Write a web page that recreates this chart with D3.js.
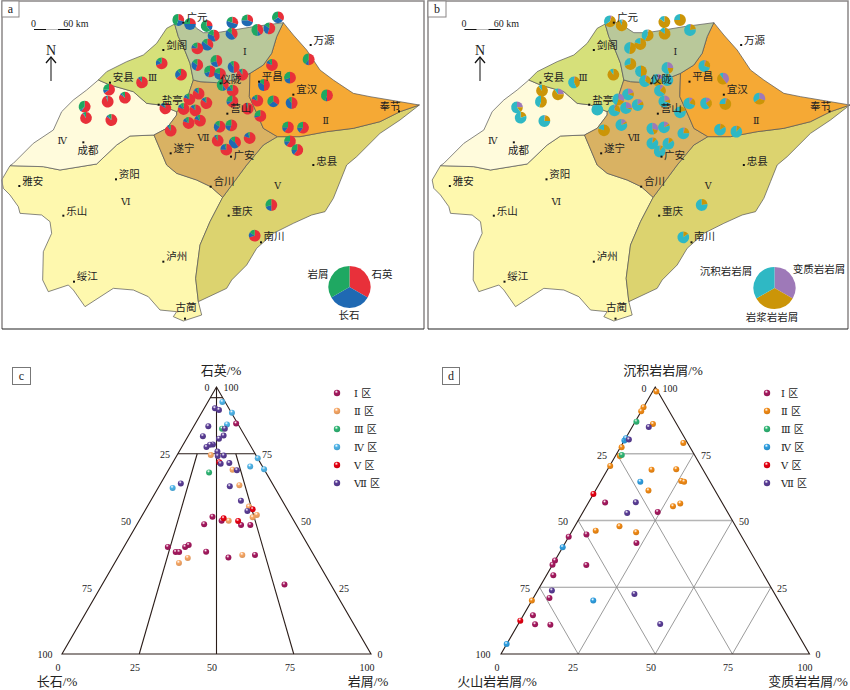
<!DOCTYPE html>
<html><head><meta charset="utf-8"><script src="https://cdn.jsdelivr.net/npm/d3@7/dist/d3.min.js"></script>
<style>html,body{margin:0;background:#fff}svg{display:block}
.zh{font-family:"Noto Sans CJK SC",sans-serif;fill:#222}.num{font-family:"Liberation Serif",serif;fill:#222}
.title{font-family:"Liberation Serif","Noto Sans CJK SC",serif;fill:#222}.rom{font-family:"DejaVu Serif","Noto Sans CJK SC",serif;fill:#222}</style></head><body><script>
// Shared region boundaries, in map units
const bIIIn=[[295,240],[320,215],[380,185],[430,165],[470,130],[500,85],[524,72]];
const bItop=[[524,72],[550,68],[575,66],[590,85],[610,98],[650,98],[700,90],[760,80],[850,68]];
const bIe=[[850,68],[830,110],[815,160],[790,195],[750,220]];
const bIs=[[750,220],[700,240],[650,248],[600,245],[580,240]];
const bIw=[[580,240],[570,190],[550,140],[535,110],[524,72]];
const bIIIIV=[[295,240],[330,255],[400,275],[440,310],[480,315],[530,335]];
const bIIIVII=[[580,240],[570,270],[555,320],[530,335]];
const bIVw=[[295,240],[260,270],[220,300],[185,335],[160,390],[100,430],[40,490],[30,497]];
const bIVVI=[[30,497],[130,500],[180,510],[290,492],[350,435],[390,408],[462,405]];
const bIVVII=[[530,335],[530,345],[500,385],[462,405]];
const bVIIII=[[750,220],[748,290],[775,350],[790,385],[832,410]];
const bVIIV=[[832,410],[790,435],[740,495],[668,592]];
const bVIIVI=[[462,405],[500,495],[530,520],[590,540],[632,560],[668,592]];
const bIIn=[[850,68],[880,105],[920,150],[960,210],[1000,240],[1060,280],[1110,290],[1170,300],[1258,315]];
const bIIV=[[832,410],[900,410],[980,395],[1060,385],[1140,365],[1200,335],[1258,315]];
const bVe=[[1258,315],[1200,360],[1140,400],[1070,470],[1040,495],[1020,545],[1000,595],[975,635],[935,645],[880,670],[820,700],[770,745],[740,795],[695,840],[680,865],[595,905]];
const bVVI=[[595,905],[587,835],[600,735],[630,665],[668,592]];
const bVIs=[[30,497],[5,540],[10,565],[30,585],[55,620],[60,640],[125,645],[150,665],[155,700],[130,755],[128,840],[145,875],[205,855],[220,870],[255,920],[340,865],[400,870],[445,890],[480,930],[530,935],[520,950],[550,963],[605,945],[595,905]];
const rev=a=>a.slice().reverse();
const regions=[
 {fill:"#fef8ae",pts:[bVIs,bVVI,rev(bVIIVI),rev(bIVVI)]},
 {fill:"#fffbdc",pts:[bIIIIV,bIVVII,rev(bIVVI),rev(bIVw)]},
 {fill:"#d6e07a",pts:[bIIIn,rev(bIw),bIIIVII,rev(bIIIIV)]},
 {fill:"#dcd36f",pts:[bIIV,bVe,bVVI,rev(bVIIV)]},
 {fill:"#d9b263",pts:[rev(bIs),bVIIII,bVIIV,rev(bVIIVI),rev(bIVVII),rev(bIIIVII)]},
 {fill:"#f5a935",pts:[bIIn,rev(bIIV),rev(bVIIII),rev(bIe)]},
 {fill:"#b9c89a",pts:[bItop,bIe,bIs,bIw]}
];
const cities=[["广元",550,68,591,50],["剑阁",490,150,530,132],["万源",932,135,972,118],["安县",330,248,370,230],["平昌",777,245,817,227],["宜汉",880,284,920,266],["仪陇",662,250,692,235],["盐亭",476,314,517,298],["奉节",1197,334,1170,315],["营山",682,341,722,323],["遂宁",512,460,552,442],["广安",693,470,732,462],["成都",250,427,264,447],["忠县",940,495,980,480],["雅安",58,558,98,540],["资阳",348,538,388,520],["合川",632,560,672,540],["乐山",190,647,230,630],["重庆",686,647,726,630],["南川",783,727,822,707],["泸州",490,785,530,767],["绥江",222,845,262,825],["古蔺",555,956,558,918]];
const zones=[["Ⅰ",735,155],["Ⅱ",977,362],["Ⅲ",458,233],["Ⅳ",187,420],["Ⅴ",833,557],["Ⅵ",377,605],["Ⅶ",610,412]];
// Map pies: x, y, then the three shares
const piesA=[[535,60,30,25,45],[570,72,25,50,25],[620,78,25,15,60],[697,68,30,50,20],[742,61,30,45,25],[772,90,40,10,50],[808,85,55,30,15],[834,52,35,30,35],[641,107,45,35,20],[695,101,40,45,15],[622,134,35,50,15],[592,145,75,10,15],[485,190,70,15,15],[592,195,55,30,15],[649,183,45,25,30],[816,195,80,10,10],[926,178,50,10,40],[701,201,50,40,10],[630,214,55,15,30],[543,224,65,25,10],[660,222,50,30,20],[727,224,90,5,5],[426,247,88,7,5],[870,233,50,20,30],[668,255,40,10,50],[792,255,50,35,15],[327,269,65,10,25],[698,272,75,15,10],[375,293,85,5,10],[596,281,85,10,5],[568,298,80,10,10],[323,305,95,3,2],[254,320,60,5,35],[619,309,85,10,5],[697,304,65,10,25],[772,302,80,10,10],[820,304,35,30,35],[875,309,50,40,10],[981,286,50,5,45],[496,325,85,10,5],[551,327,80,10,10],[586,331,85,10,5],[743,326,95,3,2],[781,348,70,5,25],[258,354,90,3,7],[334,360,85,5,10],[600,362,80,12,8],[566,369,80,10,10],[659,380,60,25,15],[694,376,55,20,25],[864,382,60,15,25],[909,383,60,15,25],[512,392,90,5,5],[749,414,80,15,5],[653,422,90,5,5],[870,424,60,15,25],[705,427,40,45,15],[679,449,75,20,5],[892,450,60,15,25],[814,615,50,20,30],[764,707,70,15,15]];
const piesB=[[555,64,5,60,35],[590,76,3,90,7],[718,66,0,85,15],[765,60,0,75,25],[795,90,3,20,77],[668,106,3,55,42],[719,101,0,85,15],[646,132,0,80,20],[615,144,2,50,48],[616,192,0,70,30],[648,214,0,50,50],[727,204,25,20,55],[838,198,5,25,70],[565,224,0,90,10],[447,247,3,40,57],[697,240,20,40,40],[727,240,0,5,95],[660,243,5,30,65],[894,236,40,50,10],[351,272,0,90,10],[705,272,10,25,65],[399,283,25,65,10],[609,283,20,10,70],[580,298,30,25,45],[718,304,20,10,70],[793,310,10,20,70],[843,310,15,25,60],[901,312,5,70,25],[1003,296,30,35,35],[348,305,0,55,45],[276,322,25,15,60],[638,315,15,10,75],[517,329,0,0,100],[568,331,5,25,70],[603,324,25,5,70],[765,337,0,20,80],[287,353,0,20,80],[358,363,3,22,75],[589,375,15,5,80],[682,386,30,15,55],[717,382,15,5,80],[885,389,2,15,83],[934,395,2,10,88],[537,391,0,80,20],[775,400,5,20,75],[682,430,3,10,87],[730,431,3,12,85],[704,454,3,7,90],[830,615,0,22,78],[775,712,0,15,85]];
// Ternary points: [top %, right %]
const zoneNames=["Ⅰ 区","Ⅱ 区","Ⅲ 区","Ⅳ 区","Ⅴ 区","Ⅶ 区"];
const c1=[[86.3,13.2],[51.4,23],[49.9,26.7],[48.6,21.7],[48.3,33.8],[48.3,36.8],[40.1,14.2],[38.2,17.7],[38.2,18.8],[40.1,19.8],[40.8,20.6],[38.3,27.5],[36.1,35.8],[37.1,43.9],[26,59]];
const c2=[[74.5,10.9],[69,20.7],[63.2,25.8],[55.2,32.9],[52.1,37],[51.2,36.1],[49.9,29],[37.1,39.8],[36,22.7],[34.1,20.8]];
const c3=[[84.4,9.6],[68,13.6]];
const c4=[[94.4,4.7],[90.4,9.8],[86,10.4],[73.3,26.7],[70.2,25.8],[69.2,30.8],[62.2,4.7]];
const c5=[[54.2,34.6],[50.8,26.9],[49.8,32.1],[71.8,15]];
const c7=[[92,3.5],[91.4,5.1],[85.3,4.7],[84.4,10.5],[81.6,4.8],[81.8,11.4],[80.6,10.5],[78.5,9.6],[78.4,8.7],[77.5,8],[75.8,12.4],[74.2,13.3],[74.3,15.2],[71.3,15.7],[71.5,18.4],[68.8,22.2],[63.9,6.5],[62.8,22.9],[57.4,29.2],[53.6,33.2]];
const d1=[[56.7,5.4],[53.2,24.2],[43.9,0],[44.8,5.3],[41.6,23.1],[35,0],[33.4,0],[33.3,11],[29.5,2.2],[21,5.2],[14.5,3.1],[11.1,5.5],[11,10.5]];
const d2=[[98.3,1.2],[92.4,0],[90.9,0],[86.1,6.2],[79,19.6],[77.4,.4],[74.2,1.4],[70.4,.2],[69,14.3],[69.2,22.2],[64.8,26],[64.5,27.1],[61.2,17.2],[56.4,29.9],[55.3,28.1],[47.8,14.5],[46.2,7.6],[45.6,21],[20,0]];
const d3s=[[87,.4],[74.5,1.9]];
const d4=[[80,0],[80.8,.1],[64.5,12.9],[40,0],[20,19.9],[3.7,0]];
const d5=[[59.9,0],[12.5,0]];
const d7=[[85,5.4],[80.3,1.3],[56.8,15.3],[52.8,14.5],[23.8,4.6],[22.5,32],[11.2,46]];
const dotColors=["#a5195f","#f7a765","#2fb574","#4fb4e8","#e60012","#5a3d96"];
const dotColorsD=["#a5195f","#f18a15","#2fb574","#2e9ee0","#e60012","#5a3d96"];
const axisTicks=[0,25,50,75,100];

const svg=d3.select("body").append("svg").attr("width",850).attr("height",690);
const defs=svg.append("defs");
function grad(col){const id="g"+col.slice(1);
 if(defs.select("#"+id).empty()){const g=defs.append("radialGradient").attr("id",id).attr("cx",.4).attr("cy",.3).attr("r",.75);
  g.append("stop").attr("offset",0).attr("stop-color","#fff").attr("stop-opacity",.85);
  g.append("stop").attr("offset",.35).attr("stop-color",col);
  g.append("stop").attr("offset",1).attr("stop-color",d3.color(col).darker(.4));}
 return "url(#"+id+")";}
function txt(g,s,x,y,cls,size,anchor){return g.append("text").attr("class",cls).attr("x",x).attr("y",y).attr("font-size",size).attr("text-anchor",anchor||"middle").attr("dominant-baseline","central").text(s);}
const pieGen=d3.pie().sort(null).startAngle(0).endAngle(2*Math.PI);

function drawMap(offset,pieOffset,pies,cols,arrowX,scaleX){
 const g=svg.append("g");
 const x=d3.scaleLinear().domain([0,1275]).range([offset,offset+425]);
 const xp=d3.scaleLinear().domain([0,1275]).range([pieOffset,pieOffset+425]);
 const y=d3.scaleLinear().domain([0,1020]).range([0,340]);
 const line=d3.line().x(d=>x(d[0])).y(d=>y(d[1])).curve(d3.curveLinear);
 regions.forEach(r=>g.append("path").attr("d",line(r.pts.flat())+"Z").attr("fill",r.fill).attr("stroke","#555").attr("stroke-width",.7));
 const arc=d3.arc().innerRadius(0).outerRadius(5.9);
 pies.forEach(p=>{const pg=g.append("g").attr("transform",`translate(${xp(p[0])},${y(p[1])})`);
  pieGen(p.slice(2)).forEach((s,i)=>pg.append("path").attr("d",arc(s)).attr("fill",cols[i]));});
 zones.forEach(z=>txt(g,z[0],x(z[1]),y(z[2]),"rom",9.5));
 cities.forEach(c=>{g.append("rect").attr("x",x(c[1])-1).attr("y",y(c[2])-1).attr("width",2).attr("height",2).attr("fill","#111");
  txt(g,c[0],x(c[3]),y(c[4]),"zh",10.5);});
 const sx=scaleX;
 g.append("line").attr("x1",sx).attr("x2",sx+36).attr("y1",29.5).attr("y2",29.5).attr("stroke","#bbb").attr("stroke-width",1);
 g.append("line").attr("x1",sx).attr("x2",sx+12).attr("y1",29.5).attr("y2",29.5).attr("stroke","#111").attr("stroke-width",1);
 g.append("line").attr("x1",sx+24).attr("x2",sx+36).attr("y1",29.5).attr("y2",29.5).attr("stroke","#111").attr("stroke-width",1);
 txt(g,"0",sx-.5,23.5,"num",10);
 txt(g,"60 km",sx+42,23.5,"num",10);
 txt(g,"N",arrowX,50,"num",14);
 g.append("line").attr("x1",arrowX).attr("x2",arrowX).attr("y1",81).attr("y2",58).attr("stroke","#666").attr("stroke-width",1.6);
 g.append("path").attr("d",`M${arrowX-5},63L${arrowX},57L${arrowX+5},63`).attr("fill","none").attr("stroke","#111").attr("stroke-width",1.3);
 return g;
}
function panelBox(x0,x1,y0,y1,bx1,by1,lab){
 svg.append("path").attr("d",`M${x0},${y1}V${y0}H${x1}V${y1}`).attr("fill","none").attr("stroke","#8a8686").attr("stroke-width",1.5);
 svg.append("line").attr("x1",x0).attr("x2",x1).attr("y1",y1).attr("y2",y1).attr("stroke","#222").attr("stroke-width",1.2);
 svg.append("rect").attr("x",x0).attr("y",y0).attr("width",bx1-x0).attr("height",by1-y0).attr("fill","#fff").attr("stroke","#8a8686").attr("stroke-width",1);
 txt(svg,lab,(x0+bx1)/2,(y0+by1)/2-.5,"num",12);
}
const colA=["#e8303a","#1f69b3","#1fa862"], colB=["#9e79b8","#cb9508","#2fb8c4"];
drawMap(0,0,piesA,colA,51,34);
drawMap(430.5,425,piesB,colB,480,464.5);
panelBox(2,424,1,329,19,17,"a");
panelBox(428,848,1,329,446,17,"b");
function legendPie(cx,cy,cols,labels){
 const arc=d3.arc().innerRadius(0).outerRadius(21);
 const g=svg.append("g").attr("transform",`translate(${cx},${cy})`);
 pieGen([1,1,1]).forEach((s,i)=>g.append("path").attr("d",arc(s)).attr("fill",cols[i]));
 labels.forEach(l=>txt(svg,l[0],l[1],l[2],"zh",10.5));
}
legendPie(349.5,287,colA,[["岩屑",318,273],["石英",382,273],["长石",349,314]]);
legendPie(774.5,288,colB,[["沉积岩岩屑",726,270],["变质岩岩屑",819,268],["岩浆岩岩屑",772,316]]);

// Ternary panels
function ternary(o){
 const g=svg.append("g");
 const bx=d3.scaleLinear().domain([0,100]).range([o.x0,o.x1]);
 const hy=d3.scaleLinear().domain([0,100]).range([o.yb,o.yt]);
 const P=(top,right)=>[bx(right+top/2),hy(top)];
 const seg=(a,b,col,w)=>g.append("line").attr("x1",a[0]).attr("y1",a[1]).attr("x2",b[0]).attr("y2",b[1]).attr("stroke",col).attr("stroke-width",w);
 o.grid(seg,P);
 const K="#2a1c18";
 g.append("path").attr("d",`M${P(100,0)}L${P(0,0)}L${P(0,100)}Z`).attr("fill","none").attr("stroke",K).attr("stroke-width",1.1);
 o.series.forEach((s,i)=>s.forEach(p=>{const q=P(p[0],p[1]);
  g.append("circle").attr("cx",q[0]).attr("cy",q[1]).attr("r",3).attr("fill",grad(o.colors[i]));}));
 o.ticksText.forEach(t=>txt(g,t[0],t[1],t[2],"num",10));
 o.titles.forEach(t=>txt(g,t[0],t[1],t[2],"title",13));
 zoneNames.forEach((n,i)=>{const ly=393+18*i;
  g.append("circle").attr("cx",o.legX).attr("cy",ly).attr("r",3.2).attr("fill",grad(o.colors[i]));
  txt(g,n,o.legT,ly,"rom",10,"start");});
 g.append("rect").attr("x",o.box[0]).attr("y",367.5).attr("width",o.box[1]-o.box[0]).attr("height",17).attr("fill","#fff").attr("stroke","#777");
 txt(g,o.label,(o.box[0]+o.box[1])/2,375.5,"num",12);
}
const tickPosC=axisTicks.map((t,i)=>[String(t),[58,135,212,290,367][i],667]);
ternary({x0:62,x1:371,yt:387,yb:654,colors:dotColors,series:[c1,c2,c3,c4,c5,c7],
 legX:337,legT:354,box:[12.5,30.5],label:"c",
 titles:[["石英/%",221,370],["长石/%",57,681.5],["岩屑/%",368,681.5]],
 ticksText:tickPosC.concat([["0",207,387],["100",231,387],["25",165,454],["75",267,454],["50",126,521],["50",306,521],["75",87,588],["25",344,588],["100",45,654],["0",380,654]]),
 grid(seg,P){const K="#2a1c18";
  seg(P(96,0),P(96,4),K,1.1);
  seg(P(75,0),P(75,25),K,1.1);
  seg(P(100,0),P(0,50),K,1.1);
  seg(P(75,6.25),P(0,25),K,1.1);
  seg(P(75,18.75),P(0,75),K,1.1);
 }});
const tickPosD=axisTicks.map((t,i)=>[String(t),[497,573,651,728,805][i],667]);
ternary({x0:501,x1:809.5,yt:387,yb:654,colors:dotColorsD,series:[d1,d2,d3s,d4,d5,d7],
 legX:767,legT:781,box:[442.5,459.5],label:"d",
 titles:[["沉积岩岩屑/%",663,370],["火山岩岩屑/%",497,681.5],["变质岩岩屑/%",808,681.5]],
 ticksText:tickPosD.concat([["0",644,388],["100",670,388],["25",602,455],["75",706,455],["50",563,521],["50",744,521],["75",525,588],["25",782,588],["100",483,654],["0",818,654]]),
 grid(seg,P){const G="#8f8f8f";
  [25,50,75].forEach(t=>seg(P(t,0),P(t,100-t),t>25?"#b5b5b5":G,t>25?1.3:.9));
  seg(P(75,0),P(0,75),G,.9);seg(P(50,0),P(0,50),G,.9);seg(P(25,0),P(0,25),G,.9);
  seg(P(75,25),P(0,25),G,.9);seg(P(50,50),P(0,50),G,.9);seg(P(25,75),P(0,75),G,.9);
 }});
</script></body></html>
